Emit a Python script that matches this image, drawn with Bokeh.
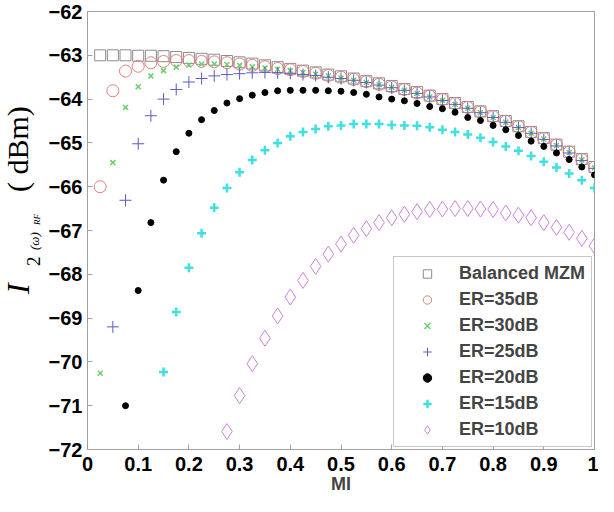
from bokeh.plotting import figure
from bokeh.models import Range1d, LinearAxis, FixedTicker, Legend, LegendItem, ColumnDataSource, Div
from bokeh.layouts import row
from bokeh.embed import file_html
from bokeh.resources import INLINE

nan = float("nan")

mi = [0.025, 0.05, 0.075, 0.1, 0.125, 0.15, 0.175, 0.2, 0.225, 0.25,
      0.275, 0.3, 0.325, 0.35, 0.375, 0.4, 0.425, 0.45, 0.475, 0.5,
      0.525, 0.55, 0.575, 0.6, 0.625, 0.65, 0.675, 0.7, 0.725, 0.75,
      0.775, 0.8, 0.825, 0.85, 0.875, 0.9, 0.925, 0.95, 0.975, 1.0]

balanced = [-63.00, -63.00, -63.00, -63.01, -63.01, -63.02, -63.04, -63.06, -63.08, -63.10,
            -63.13, -63.16, -63.19, -63.23, -63.27, -63.31, -63.35, -63.39, -63.44, -63.48,
            -63.53, -63.59, -63.64, -63.70, -63.77, -63.84, -63.92, -64.00, -64.09, -64.18,
            -64.28, -64.39, -64.50, -64.62, -64.75, -64.89, -65.04, -65.20, -65.37, -65.55]

er35 = [-66.00, -63.81, -63.36, -63.25, -63.17, -63.14, -63.12, -63.12, -63.14, -63.15,
        -63.17, -63.20, -63.23, -63.26, -63.30, -63.33, -63.37, -63.41, -63.46, -63.50,
        -63.55, -63.60, -63.66, -63.72, -63.78, -63.86, -63.93, -64.01, -64.10, -64.19,
        -64.29, -64.40, -64.51, -64.63, -64.76, -64.90, -65.05, -65.21, -65.38, -65.56]

er30 = [-70.26, -65.45, -64.19, -63.72, -63.47, -63.35, -63.27, -63.22, -63.20, -63.20,
        -63.21, -63.23, -63.26, -63.29, -63.32, -63.35, -63.39, -63.43, -63.47, -63.52,
        -63.57, -63.62, -63.67, -63.73, -63.80, -63.87, -63.95, -64.03, -64.12, -64.21,
        -64.31, -64.42, -64.53, -64.65, -64.78, -64.91, -65.06, -65.22, -65.39, -65.57]

er25 = [nan, -69.20, -66.31, -65.02, -64.38, -64.00, -63.78, -63.61, -63.53, -63.47,
        -63.44, -63.42, -63.40, -63.39, -63.40, -63.41, -63.44, -63.46, -63.50, -63.53,
        -63.57, -63.62, -63.68, -63.74, -63.80, -63.87, -63.95, -64.03, -64.12, -64.21,
        -64.31, -64.42, -64.53, -64.65, -64.78, -64.92, -65.07, -65.23, -65.40, -65.58]

er20 = [nan, nan, -71.00, -68.37, -66.82, -65.85, -65.20, -64.78, -64.47, -64.26,
        -64.09, -63.99, -63.91, -63.85, -63.81, -63.80, -63.80, -63.80, -63.81, -63.82,
        -63.85, -63.89, -63.95, -64.00, -64.04, -64.10, -64.17, -64.22, -64.30, -64.42,
        -64.49, -64.60, -64.70, -64.83, -64.96, -65.08, -65.23, -65.38, -65.55, -65.73]

er15 = [nan, nan, nan, nan, nan, -70.23, -68.86, -67.85, -67.06, -66.48,
        -66.03, -65.67, -65.39, -65.17, -65.00, -64.85, -64.75, -64.68, -64.62, -64.60,
        -64.57, -64.57, -64.57, -64.59, -64.60, -64.61, -64.64, -64.70, -64.75, -64.81,
        -64.88, -64.98, -65.08, -65.18, -65.30, -65.43, -65.56, -65.70, -65.85, -66.03]

er10 = [nan, nan, nan, nan, nan, nan, nan, nan, nan, nan,
        -71.59, -70.77, -70.04, -69.46, -68.95, -68.52, -68.14, -67.82, -67.54, -67.31,
        -67.11, -66.96, -66.82, -66.71, -66.63, -66.57, -66.52, -66.51, -66.50, -66.50,
        -66.51, -66.52, -66.60, -66.65, -66.71, -66.82, -66.93, -67.04, -67.18, -67.35]

series_names = ["Balanced MZM", "ER=35dB", "ER=30dB", "ER=25dB", "ER=20dB", "ER=15dB", "ER=10dB"]
x_ticks = [0, 0.1, 0.2, 0.3, 0.4, 0.5, 0.6, 0.7, 0.8, 0.9, 1.0]
x_tick_labels = ["0", "0.1", "0.2", "0.3", "0.4", "0.5", "0.6", "0.7", "0.8", "0.9", "1"]
y_ticks = [-72, -71, -70, -69, -68, -67, -66, -65, -64, -63, -62]

FONT = "Liberation Sans"
AX = "#a0a0a0"

p = figure(width=553, height=496, x_range=Range1d(0, 1), y_range=Range1d(-72, -62),
           output_backend="svg", toolbar_location=None,
           min_border_left=40, min_border_right=4, min_border_top=11, min_border_bottom=0,
           x_axis_location=None, y_axis_location=None)
p.xgrid.visible = False
p.ygrid.visible = False
p.outline_line_color = AX
p.background_fill_color = "white"
p.border_fill_color = "white"


def style_axis(ax):
    ax.axis_line_color = AX
    ax.major_tick_line_color = AX
    ax.major_tick_in = 5
    ax.major_tick_out = 0
    ax.minor_tick_line_color = None
    ax.major_label_text_font = FONT
    ax.major_label_text_font_style = "bold"
    ax.major_label_text_font_size = "20px"
    ax.major_label_text_color = "black"


xb = LinearAxis(ticker=FixedTicker(ticks=x_ticks),
                major_label_overrides={t: l for t, l in zip(x_ticks, x_tick_labels)})
style_axis(xb)
xb.major_label_standoff = 7
xb.axis_label = "MI"
xb.axis_label_text_font = FONT
xb.axis_label_text_font_style = "bold"
xb.axis_label_text_font_size = "18px"
xb.axis_label_standoff = 0
p.add_layout(xb, "below")

yl = LinearAxis(ticker=FixedTicker(ticks=y_ticks))
style_axis(yl)
yl.major_label_standoff = 5
p.add_layout(yl, "left")

styles = [
    (balanced, dict(marker="square", size=11, fill_color=None, line_color="#8c8c8c", line_width=1)),
    (er35, dict(marker="circle", size=12, fill_color=None, line_color="#e08080", line_width=1)),
    (er30, dict(marker="x", size=7, line_color="#6cd06c", line_width=1.5)),
    (er25, dict(marker="cross", size=12, line_color="#5c5cc0", line_width=1)),
    (er20, dict(marker="circle", size=6, fill_color="black", line_color="black")),
    (er15, dict(marker="cross", size=9, line_color="#40e0e0", line_width=2.5)),
    (er10, dict(marker="diamond", size=16, fill_color=None, line_color="#d080e0", line_width=1)),
]

items = []
for name, (vals, st) in zip(series_names, styles):
    src = ColumnDataSource(dict(x=mi, y=vals))
    r = p.scatter("x", "y", source=src, **st)
    items.append(LegendItem(label=name, renderers=[r]))

legend = Legend(items=items, location="bottom_right")
legend.label_text_font = FONT
legend.label_text_font_style = "bold"
legend.label_text_font_size = "18px"
legend.border_line_color = "#909090"
legend.border_line_width = 1
legend.background_fill_alpha = 1
legend.padding = 6
legend.spacing = 5
legend.glyph_width = 54
legend.glyph_height = 21
legend.label_height = 21
legend.label_standoff = 5
legend.margin = 2
p.add_layout(legend)

# rotated y-axis label  I_{2(ω)_RF} ( dBm)
SPAN = ("position:absolute;left:{x}px;top:{y}px;white-space:nowrap;line-height:1;"
        "transform-origin:0 0;transform:rotate(-90deg) translate(0,-50%);"
        "font-family:'Liberation Serif';font-style:{st};font-size:{fs}px;color:black;")
parts = [
    ("I", 18, 294, "italic", 32),
    ("2", 33, 266, "normal", 19),
    ("(ω)", 34, 250, "italic", 13),
    ("RF", 37, 225, "italic", 9),
    ("( dBm)", 18, 192, "normal", 30),
]
html = '<div style="position:relative;width:45px;height:496px;">' + "".join(
    '<span style="' + SPAN.format(x=x, y=y, st=st, fs=fs) + '">' + t + "</span>"
    for t, x, y, st, fs in parts) + "</div>"
ylabel = Div(text=html, width=45, height=496, margin=0)

layout = row(ylabel, p, spacing=0)

open("out.html", "w").write(file_html(layout, INLINE))
